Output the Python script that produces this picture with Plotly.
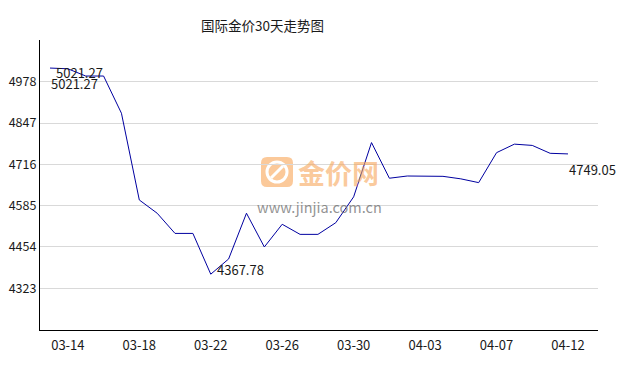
import plotly.graph_objects as go

dates = ["03-13", "03-14", "03-15", "03-16", "03-17", "03-18", "03-19", "03-20", "03-21", "03-22",
         "03-23", "03-24", "03-25", "03-26", "03-27", "03-28", "03-29", "03-30", "03-31", "04-01",
         "04-02", "04-03", "04-04", "04-05", "04-06", "04-07", "04-08", "04-09", "04-10", "04-12"]
prices = [5021.27, 5019, 4996, 4996, 4878, 4603, 4561, 4497, 4497, 4367.78,
          4416, 4561, 4454, 4526, 4494, 4494, 4531, 4613, 4785, 4672,
          4679, 4679, 4678, 4670, 4658, 4753, 4780, 4776, 4751, 4749.05]
tick_dates = ["03-14", "03-18", "03-22", "03-26", "03-30", "04-03", "04-07", "04-12"]
y_ticks = [4323, 4454, 4585, 4716, 4847, 4978]
title_text = "国际金价30天走势图"

FONT = "Noto Sans CJK SC, Noto Sans, sans-serif"
# page is drawn with an 8px body margin; compensate so the plot area lands at page px 40..598 x 40..330
OFF = 8
L, R, T, B = 40, 598, 40, 330
W, H = 638 - OFF, 370 - OFF

def px(xp):
    return (xp - L) / (R - L)

def py(yp):
    return (B - yp) / (B - T)

fig = go.Figure()
fig.add_trace(go.Scatter(x=dates, y=prices, mode="lines",
                         line=dict(color="#0000a0", width=1), hoverinfo="x+y"))

imax = prices.index(max(prices))
imin = prices.index(min(prices))
lab_font = dict(size=13, color="#1a1a1a", family=FONT)
ann = []
ann.append(dict(x=dates[imax], y=prices[imax], xref="x", yref="y", text=f"{prices[imax]:.2f}",
                showarrow=False, xanchor="left", yanchor="middle", xshift=4, yshift=-4, font=lab_font))
ann.append(dict(x=dates[0], y=prices[0], xref="x", yref="y", text=f"{prices[0]:.2f}",
                showarrow=False, xanchor="left", yanchor="middle", xshift=-1, yshift=-15, font=lab_font))
ann.append(dict(x=dates[imin], y=prices[imin], xref="x", yref="y", text=f"{prices[imin]:.2f}",
                showarrow=False, xanchor="left", yanchor="middle", xshift=4, yshift=5, font=lab_font))
ann.append(dict(x=dates[-1], y=prices[-1], xref="x", yref="y", text=f"{prices[-1]:.2f}",
                showarrow=False, xanchor="left", yanchor="middle", xshift=-1, yshift=-16, font=lab_font))
# title
ann.append(dict(x=px(262), y=py(25), xref="paper", yref="paper", text=title_text,
                showarrow=False, xanchor="center", yanchor="middle",
                font=dict(size=13.5, color="#1a1a1a", family=FONT)))
# watermark
ann.append(dict(x=px(338), y=py(172), xref="paper", yref="paper", text="<b>金价网</b>",
                showarrow=False, xanchor="center", yanchor="middle",
                font=dict(size=27, color="rgba(247,166,90,0.6)", family=FONT)))
ann.append(dict(x=px(319), y=py(206), xref="paper", yref="paper", text="www.jinjia.com.cn",
                showarrow=False, xanchor="center", yanchor="middle",
                font=dict(size=14.5, color="rgba(110,110,110,0.75)", family=FONT)))

# icon rounded square
x0, x1, y0, y1, r = px(261), px(293), py(187), py(157), 6
rx = r / (R - L)
ry = r / (B - T)
path = (f"M {x0+rx},{y0} L {x1-rx},{y0} Q {x1},{y0} {x1},{y0+ry} L {x1},{y1-ry} Q {x1},{y1} {x1-rx},{y1} "
        f"L {x0+rx},{y1} Q {x0},{y1} {x0},{y1-ry} L {x0},{y0+ry} Q {x0},{y0} {x0+rx},{y0} Z")
shapes = [dict(type="path", xref="paper", yref="paper", path=path,
               fillcolor="rgba(249,183,120,0.75)", line=dict(width=0), layer="below"),
          dict(type="circle", xref="paper", yref="paper", x0=px(267), x1=px(287), y0=py(182), y1=py(162),
               line=dict(color="white", width=3), layer="below"),
          dict(type="line", xref="paper", yref="paper", x0=px(271), x1=px(283), y0=py(178), y1=py(166),
               line=dict(color="white", width=3), layer="below")]

fig.update_layout(
    width=W, height=H,
    margin=dict(l=L - OFF, r=638 - R, t=T - OFF, b=370 - B, pad=0, autoexpand=False),
    paper_bgcolor="white", plot_bgcolor="white",
    showlegend=False,
    font=dict(family=FONT, size=12, color="#1a1a1a"),
    annotations=ann, shapes=shapes,
    xaxis=dict(type="category", range=[-0.56, 30.68], tickmode="array", tickvals=tick_dates,
               ticktext=tick_dates, showgrid=False, showline=True, linecolor="black", linewidth=1.2,
               ticks="", zeroline=False, automargin=False, ticklabelstandoff=3,
               tickfont=dict(size=13, family=FONT, color="#1a1a1a")),
    yaxis=dict(range=[4190.8, 5110.2], tickmode="array", tickvals=y_ticks,
               ticktext=[str(v) for v in y_ticks], showgrid=True, gridcolor="#d9d9d9", gridwidth=1,
               showline=True, linecolor="black", linewidth=1.2, ticks="", zeroline=False,
               automargin=False, tickfont=dict(size=12.5, family=FONT, color="#1a1a1a")),
)

fig.write_html("out.html")
